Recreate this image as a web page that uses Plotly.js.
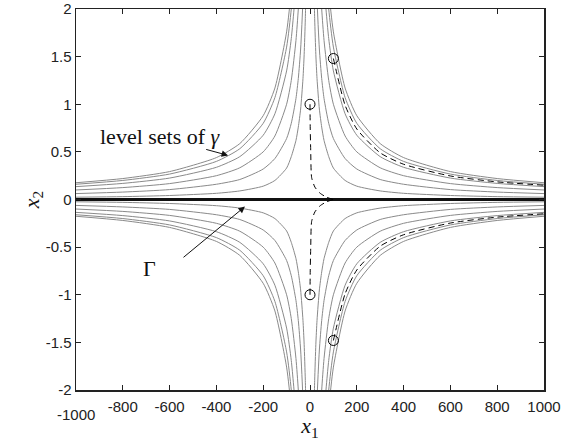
<!DOCTYPE html>
<html><head><meta charset="utf-8">
<script src="https://cdn.plot.ly/plotly-3.0.1.min.js"></script>
<style>html,body{margin:0;padding:0;background:#fff}#chart{width:568px;height:441px}</style>
</head><body><div id="chart"></div>
<script>
// distance from x2 axis (|x1|) at which each level set was read
const xs = [10, 15, 20, 25, 30, 40, 50, 60, 80, 100, 150, 200, 300, 400, 600, 800, 1000];
// level sets of gamma, |x2| read at the |x1| positions above (upper-right quadrant; picture is symmetric)
const level1 = [3.8, 2.5, 1.9, 1.52, 1.27, 0.95, 0.76, 0.62, 0.45, 0.33, 0.2, 0.14, 0.09, 0.065, 0.042, 0.03, 0.024];
const level2 = [6.2, 4.2, 3.2, 2.55, 2.1, 1.58, 1.27, 1.06, 0.8, 0.64, 0.43, 0.32, 0.21, 0.16, 0.104, 0.078, 0.062];
const level3 = [10, 6.7, 5, 4, 3.33, 2.5, 2.0, 1.67, 1.25, 1.0, 0.667, 0.5, 0.333, 0.25, 0.167, 0.125, 0.10];
const level4 = [13.5, 9, 6.75, 5.4, 4.5, 3.38, 2.7, 2.25, 1.69, 1.35, 0.9, 0.675, 0.45, 0.338, 0.225, 0.169, 0.135];
const level5 = [16, 10.7, 8, 6.4, 5.33, 4, 3.2, 2.67, 2.0, 1.6, 1.07, 0.8, 0.533, 0.4, 0.267, 0.2, 0.16];
const level6 = [17.6, 11.7, 8.8, 7.04, 5.87, 4.4, 3.52, 2.93, 2.2, 1.76, 1.17, 0.88, 0.587, 0.44, 0.293, 0.22, 0.176];
const levels = [level1, level2, level3, level4, level5, level6];

// trajectories (upper ones; lower ones are their mirror images)
const trajAx = [0, 1, 3, 7, 21, 43, 71, 100];
const trajAy = [1, 0.75, 0.52, 0.23, 0.13, 0.066, 0.024, 0];
const trajBx = [100, 150, 200, 300, 400, 600, 800, 1000];
const trajBy = [1.48, 0.99, 0.74, 0.49, 0.37, 0.247, 0.185, 0.15];
const startX = [0, 0, 100, 100];
const startY = [1, -1, 1.48, -1.48];

const gammaX = [-1000, 1000];
const gammaY = [0, 0];

const xTicks = [-1000, -800, -600, -400, -200, 0, 200, 400, 600, 800, 1000];
const xTickText = ['', '-800', '-600', '-400', '-200', '0', '200', '400', '600', '800', '1000'];
const xFirstLabel = '-1000';
const yTicks = [-2, -1.5, -1, -0.5, 0, 0.5, 1, 1.5, 2];
const yTickText = ['-2', '-1.5', '-1', '-0.5', '0', '0.5', '1', '1.5', '2'];

const traces = [];
for (const lv of levels) {
  for (const sx of [1, -1]) {
    for (const sy of [1, -1]) {
      traces.push({
        x: xs.map(v => sx * v), y: lv.map(v => sy * v),
        mode: 'lines', type: 'scatter', hoverinfo: 'skip',
        line: {color: '#8a8a8a', width: 1, shape: 'spline', smoothing: 0.6}
      });
    }
  }
}
traces.push({x: gammaX, y: gammaY, mode: 'lines', type: 'scatter',
  line: {color: '#111', width: 3}});
for (const sy of [1, -1]) {
  traces.push({x: trajAx, y: trajAy.map(v => sy * v), mode: 'lines', type: 'scatter',
    line: {color: '#000', width: 1, dash: '6px,4px', shape: 'spline', smoothing: 0.6}});
  traces.push({x: trajBx, y: trajBy.map(v => sy * v), mode: 'lines', type: 'scatter',
    line: {color: '#000', width: 1, dash: '6px,4px', shape: 'spline', smoothing: 0.6}});
}
traces.push({x: startX, y: startY, mode: 'markers', type: 'scatter',
  marker: {symbol: 'circle-open', size: 10, color: '#000', line: {width: 1}}});

const tickFont = {family: 'Liberation Sans, Arial, sans-serif', size: 15, color: '#222'};
const serif = 'Liberation Serif, Times New Roman, serif';

const layout = {
  width: 568, height: 441,
  margin: {l: 76, r: 24, t: 9, b: 51},
  paper_bgcolor: '#fff', plot_bgcolor: '#fff',
  showlegend: false,
  xaxis: {
    range: [-1000, 1000], tickvals: xTicks, ticktext: xTickText,
    showline: true, mirror: 'allticks', linecolor: '#222', linewidth: 1.5,
    ticks: 'inside', ticklen: 5, tickcolor: '#222', showgrid: false, zeroline: false,
    tickfont: tickFont, ticklabelstandoff: 2,
    title: {text: '<i>x</i><sub>1</sub>', font: {family: serif, size: 22, color: '#111'}, standoff: 2}
  },
  yaxis: {
    range: [-2, 2], tickvals: yTicks, ticktext: yTickText,
    showline: true, mirror: 'allticks', linecolor: '#222', linewidth: 1.5,
    ticks: 'inside', ticklen: 5, tickcolor: '#222', showgrid: false, zeroline: false,
    tickfont: tickFont,
    title: {text: '<i>x</i><sub>2</sub>', font: {family: serif, size: 22, color: '#111'}, standoff: 0}
  },
  annotations: [
    {x: -1000, y: 0, xref: 'x', yref: 'paper', yanchor: 'middle', yshift: -24,
     text: xFirstLabel, showarrow: false, font: tickFont},
    {x: -640, y: 0.665, xref: 'x', yref: 'y', text: 'level sets of <i>γ</i>', showarrow: false,
     font: {family: serif, size: 22, color: '#111'}},
    {x: -350, y: 0.463, ax: -450, ay: 0.53, xref: 'x', yref: 'y', axref: 'x', ayref: 'y',
     text: '', showarrow: true, arrowhead: 2, arrowsize: 1.3, arrowwidth: 1, arrowcolor: '#111'},
    {x: -684, y: -0.726, xref: 'x', yref: 'y', text: 'Γ', showarrow: false,
     font: {family: serif, size: 22, color: '#111'}},
    {x: -278, y: -0.074, ax: -547, ay: -0.62, xref: 'x', yref: 'y', axref: 'x', ayref: 'y',
     text: '', showarrow: true, arrowhead: 2, arrowsize: 1.3, arrowwidth: 1, arrowcolor: '#111'}
  ]
};

Plotly.newPlot('chart', traces, layout, {displayModeBar: false, staticPlot: true});
</script>
</body></html>
